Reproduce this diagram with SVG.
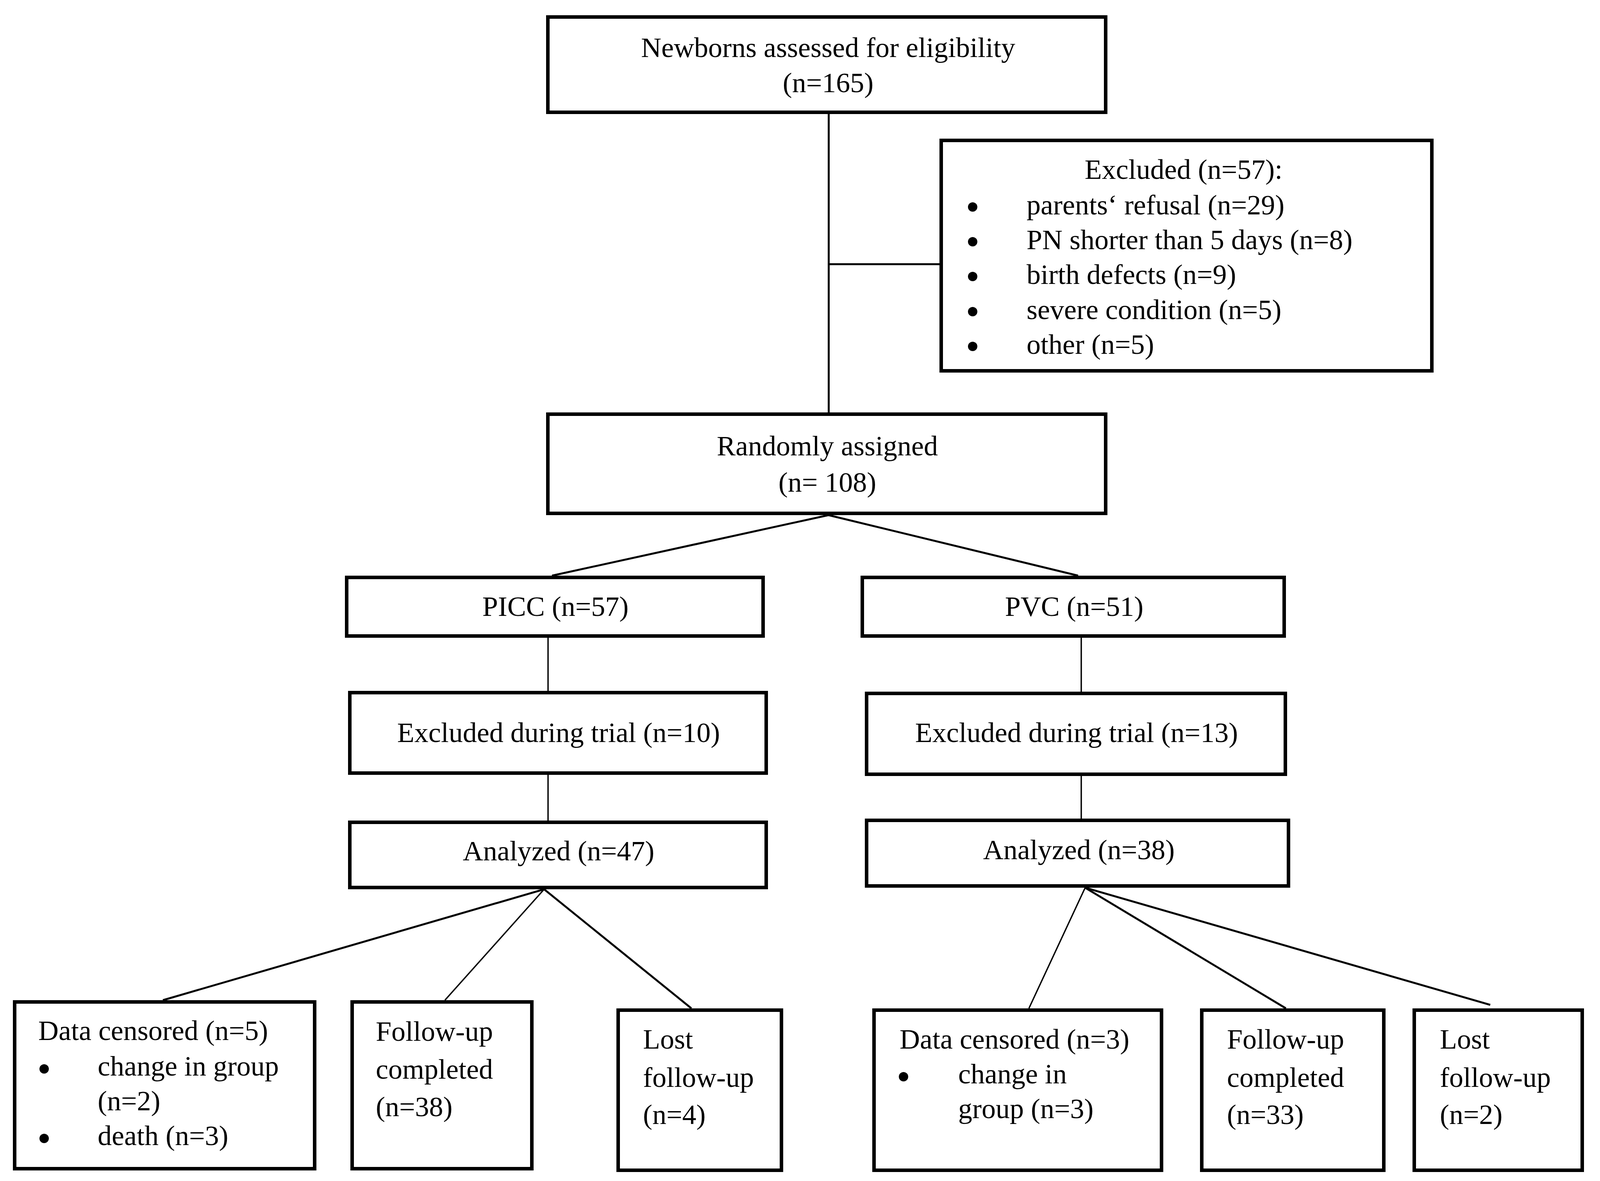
<svg xmlns="http://www.w3.org/2000/svg" width="4098" height="3024" viewBox="0 0 4098 3024">
<style>
.box{fill:#fff;stroke:#000;stroke-width:9}
.t{font-family:"Liberation Serif","Times New Roman",serif;font-size:72px;fill:#000}
.c{text-anchor:middle}
.ln{stroke:#000;stroke-width:5;fill:none;stroke-linecap:butt}
.thin{stroke-width:3.5}
.bul{fill:#000}
</style>
<rect width="4098" height="3024" fill="#fff"/>
<g id="connectors">
<line class="ln" x1="2121.5" y1="292" x2="2121.5" y2="1056"/>
<line class="ln" x1="2121.5" y1="676.5" x2="2405" y2="676.5"/>
<line class="ln" x1="2121" y1="1319" x2="1413" y2="1474"/>
<line class="ln" x1="2121" y1="1319" x2="2760" y2="1474"/>
<line class="ln thin" x1="1403" y1="1633" x2="1403" y2="1769"/>
<line class="ln thin" x1="1403" y1="1984" x2="1403" y2="2101"/>
<line class="ln thin" x1="2768" y1="1633" x2="2768" y2="1771"/>
<line class="ln thin" x1="2768" y1="1987" x2="2768" y2="2096"/>
<line class="ln" x1="1393" y1="2277" x2="417" y2="2561"/>
<line class="ln thin" x1="1393" y1="2277" x2="1139" y2="2561"/>
<line class="ln" x1="1393" y1="2277" x2="1770" y2="2582"/>
<line class="ln thin" x1="2778" y1="2273" x2="2634" y2="2582"/>
<line class="ln" x1="2778" y1="2273" x2="3292" y2="2582"/>
<line class="ln" x1="2778" y1="2273" x2="3815" y2="2573"/>
</g>
<g id="n-newborns">
<rect class="box" x="1402.5" y="43.5" width="1428" height="244"/>
<text class="t c" x="2120" y="146">Newborns assessed for eligibility</text>
<text class="t c" x="2120" y="236">(n=165)</text>
</g>
<g id="n-excluded">
<rect class="box" x="2409.5" y="359.5" width="1256" height="590"/>
<text class="t c" x="3030" y="458">Excluded (n=57):</text>
<circle class="bul" cx="2490" cy="530" r="12"/>
<text class="t" x="2628" y="549">parents‘ refusal (n=29)</text>
<circle class="bul" cx="2490" cy="619" r="12"/>
<text class="t" x="2628" y="638">PN shorter than 5 days (n=8)</text>
<circle class="bul" cx="2490" cy="708" r="12"/>
<text class="t" x="2628" y="727">birth defects (n=9)</text>
<circle class="bul" cx="2490" cy="798" r="12"/>
<text class="t" x="2628" y="817">severe condition (n=5)</text>
<circle class="bul" cx="2490" cy="887" r="12"/>
<text class="t" x="2628" y="906">other (n=5)</text>
</g>
<g id="n-random">
<rect class="box" x="1402.5" y="1060.5" width="1428" height="254"/>
<text class="t c" x="2118" y="1166">Randomly assigned</text>
<text class="t c" x="2118" y="1259">(n= 108)</text>
</g>
<g id="n-picc">
<rect class="box" x="887.5" y="1478.5" width="1066" height="150"/>
<text class="t c" x="1422" y="1577">PICC (n=57)</text>
</g>
<g id="n-pvc">
<rect class="box" x="2207.5" y="1478.5" width="1080" height="150"/>
<text class="t c" x="2750" y="1577">PVC (n=51)</text>
</g>
<g id="n-excl10">
<rect class="box" x="895.5" y="1773.5" width="1066" height="206"/>
<text class="t c" x="1430" y="1900">Excluded during trial (n=10)</text>
</g>
<g id="n-excl13">
<rect class="box" x="2218.5" y="1775.5" width="1072" height="207"/>
<text class="t c" x="2756" y="1900">Excluded during trial (n=13)</text>
</g>
<g id="n-an47">
<rect class="box" x="895.5" y="2105.5" width="1066" height="167"/>
<text class="t c" x="1430" y="2203">Analyzed (n=47)</text>
</g>
<g id="n-an38">
<rect class="box" x="2218.5" y="2100.5" width="1080" height="168"/>
<text class="t c" x="2762" y="2200">Analyzed (n=38)</text>
</g>
<g id="n-dc5">
<rect class="box" x="37.5" y="2565.5" width="768" height="427"/>
<text class="t" x="98" y="2663">Data censored (n=5)</text>
<circle class="bul" cx="113" cy="2737" r="12"/>
<text class="t" x="250" y="2754">change in group</text>
<text class="t" x="250" y="2843">(n=2)</text>
<circle class="bul" cx="113" cy="2915" r="12"/>
<text class="t" x="250" y="2932">death (n=3)</text>
</g>
<g id="n-fu38">
<rect class="box" x="901.5" y="2565.5" width="460" height="427"/>
<text class="t" x="962" y="2665">Follow-up</text>
<text class="t" x="962" y="2762">completed</text>
<text class="t" x="962" y="2858">(n=38)</text>
</g>
<g id="n-lost4">
<rect class="box" x="1582.5" y="2586.5" width="418" height="410"/>
<text class="t" x="1646" y="2685">Lost</text>
<text class="t" x="1646" y="2783">follow-up</text>
<text class="t" x="1646" y="2878">(n=4)</text>
</g>
<g id="n-dc3">
<rect class="box" x="2237.5" y="2586.5" width="736" height="410"/>
<text class="t" x="2303" y="2685">Data censored (n=3)</text>
<circle class="bul" cx="2313" cy="2757" r="12"/>
<text class="t" x="2453" y="2774">change in</text>
<text class="t" x="2453" y="2863">group (n=3)</text>
</g>
<g id="n-fu33">
<rect class="box" x="3076.5" y="2586.5" width="466" height="410"/>
<text class="t" x="3141" y="2685">Follow-up</text>
<text class="t" x="3141" y="2783">completed</text>
<text class="t" x="3141" y="2878">(n=33)</text>
</g>
<g id="n-lost2">
<rect class="box" x="3620.5" y="2586.5" width="430" height="410"/>
<text class="t" x="3686" y="2685">Lost</text>
<text class="t" x="3686" y="2783">follow-up</text>
<text class="t" x="3686" y="2878">(n=2)</text>
</g>
</svg>
